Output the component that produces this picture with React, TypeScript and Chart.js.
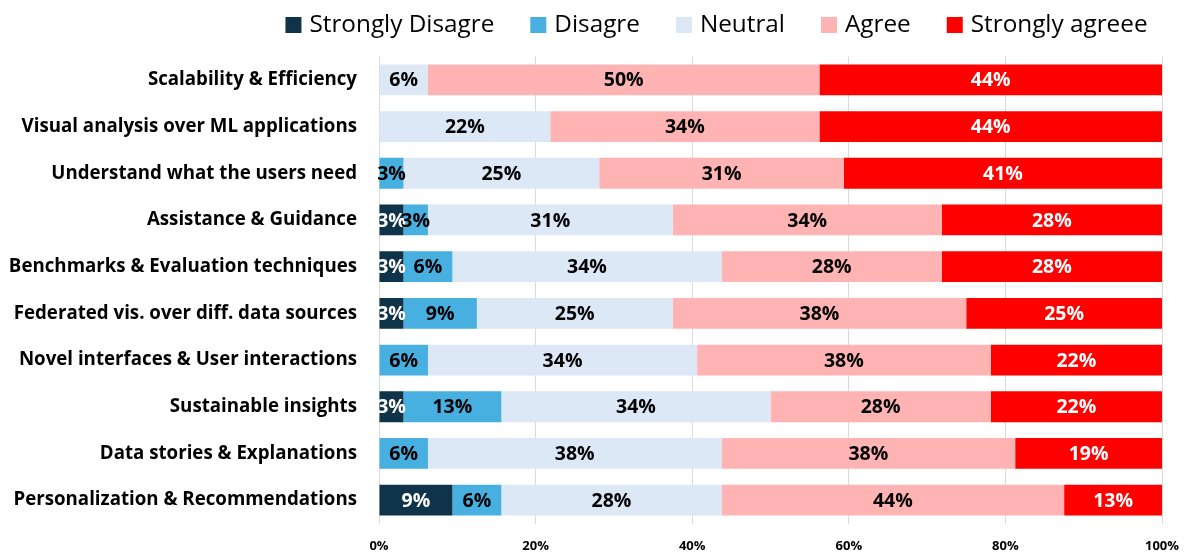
import React, { useEffect, useRef } from "react";
import { Chart, registerables } from "chart.js";

Chart.register(...registerables);

const categories = [
  "Scalability & Efficiency",
  "Visual analysis over ML applications",
  "Understand what the users need",
  "Assistance & Guidance",
  "Benchmarks & Evaluation techniques",
  "Federated vis. over diff. data sources",
  "Novel interfaces & User interactions",
  "Sustainable insights",
  "Data stories & Explanations",
  "Personalization & Recommendations",
];

const seriesNames = ["Strongly Disagre", "Disagre", "Neutral", "Agree", "Strongly agreee"];

const stronglyDisagree = [0, 0, 0, 3.125, 3.125, 3.125, 0, 3.125, 0, 9.375];
const disagree = [0, 0, 3.125, 3.125, 6.25, 9.375, 6.25, 12.5, 6.25, 6.25];
const neutral = [6.25, 21.875, 25, 31.25, 34.375, 25, 34.375, 34.375, 37.5, 28.125];
const agree = [50, 34.375, 31.25, 34.375, 28.125, 37.5, 37.5, 28.125, 37.5, 43.75];
const stronglyAgree = [43.75, 43.75, 40.625, 28.125, 28.125, 25, 21.875, 21.875, 18.75, 12.5];

const xTicks = [0, 20, 40, 60, 80, 100];

const colors = ["#0F3349", "#47B0E0", "#DCE8F5", "#FFB3B3", "#FF0000"];
const labelColors = ["#FFFFFF", "#000000", "#000000", "#000000", "#FFFFFF"];

const FONT = "'Open Sans', Lato, sans-serif";

const valueLabelPlugin = {
  id: "valueLabels",
  afterDatasetsDraw(chart: any) {
    const ctx = chart.ctx;
    ctx.save();
    ctx.font = `bold 19.5px ${FONT}`;
    ctx.textAlign = "center";
    ctx.textBaseline = "middle";
    chart.data.datasets.forEach((ds: any, di: number) => {
      const meta = chart.getDatasetMeta(di);
      meta.data.forEach((el: any, i: number) => {
        const v = ds.data[i];
        if (!v) return;
        const cx = (el.x + el.base) / 2;
        ctx.fillStyle = labelColors[di];
        ctx.fillText(Math.round(v) + "%", cx, el.y + 1);
      });
    });
    ctx.restore();
  },
};

const LEGEND_CENTER = 716.5;
const LEGEND_BASELINE = 32;
const LEGEND_BOX_TOP = 17;
const LEGEND_BOX = 16;
const LEGEND_GAP_TEXT = 8;
const LEGEND_GAP_ITEM = 36;

const topLegendPlugin = {
  id: "topLegend",
  afterDraw(chart: any) {
    const ctx = chart.ctx;
    ctx.save();
    ctx.font = `24.3px ${FONT}`;
    ctx.textBaseline = "alphabetic";
    ctx.textAlign = "left";
    const items = chart.data.datasets.map((ds: any) => ({
      label: ds.label,
      color: ds.backgroundColor,
      w: ctx.measureText(ds.label).width,
    }));
    const total = items.reduce(
      (s: number, it: any, i: number) => s + LEGEND_BOX + LEGEND_GAP_TEXT + it.w + (i > 0 ? LEGEND_GAP_ITEM : 0),
      0
    );
    let x = LEGEND_CENTER - total / 2;
    items.forEach((it: any) => {
      ctx.fillStyle = it.color;
      ctx.fillRect(x, LEGEND_BOX_TOP, LEGEND_BOX, LEGEND_BOX);
      x += LEGEND_BOX + LEGEND_GAP_TEXT;
      ctx.fillStyle = "#000";
      ctx.fillText(it.label, x, LEGEND_BASELINE);
      x += it.w + LEGEND_GAP_ITEM;
    });
    ctx.restore();
  },
};

export default function App() {
  const ref = useRef<HTMLCanvasElement | null>(null);
  useEffect(() => {
    document.body.style.margin = "0";
    const values = [stronglyDisagree, disagree, neutral, agree, stronglyAgree];
    const chart = new Chart(ref.current as HTMLCanvasElement, {
      type: "bar",
      data: {
        labels: categories,
        datasets: seriesNames.map((name, i) => ({
          label: name,
          data: values[i],
          backgroundColor: colors[i],
          borderWidth: 0,
          barPercentage: 0.66,
          categoryPercentage: 1,
        })),
      },
      options: {
        indexAxis: "y",
        animation: false,
        responsive: false,
        maintainAspectRatio: false,
        layout: { padding: { left: 0, right: 24, top: 56.5, bottom: 0 } },
        plugins: {
          legend: { display: false },
          tooltip: { enabled: false },
        },
        scales: {
          x: {
            stacked: true,
            min: 0,
            max: 100,
            afterBuildTicks: (axis: any) => {
              axis.ticks = xTicks.map((v) => ({ value: v }));
            },
            afterFit: (axis: any) => {
              axis.height = 29.5;
              axis.paddingLeft = 0;
              axis.paddingRight = 0;
            },
            grid: { color: "#D9D9D9", drawTicks: false },
            border: { display: false },
            ticks: {
              color: "#000",
              font: { family: FONT, size: 13, weight: "bold" },
              callback: (v: any) => v + "%",
              padding: 15,
            },
          },
          y: {
            stacked: true,
            afterFit: (axis: any) => {
              axis.width = 379;
              axis.paddingTop = 0;
              axis.paddingBottom = 0;
            },
            grid: { display: false, drawTicks: false },
            border: { display: true, color: "#D9D9D9" },
            ticks: {
              color: "#000",
              padding: 22,
              font: { family: FONT, size: 18.7, weight: "bold" },
            },
          },
        },
      },
      plugins: [valueLabelPlugin, topLegendPlugin],
    } as any);
    return () => chart.destroy();
  }, []);
  return (
    <div style={{ width: 1186, height: 553 }}>
      <canvas ref={ref} width={1186} height={553} style={{ width: 1186, height: 553, display: "block" }} />
    </div>
  );
}
